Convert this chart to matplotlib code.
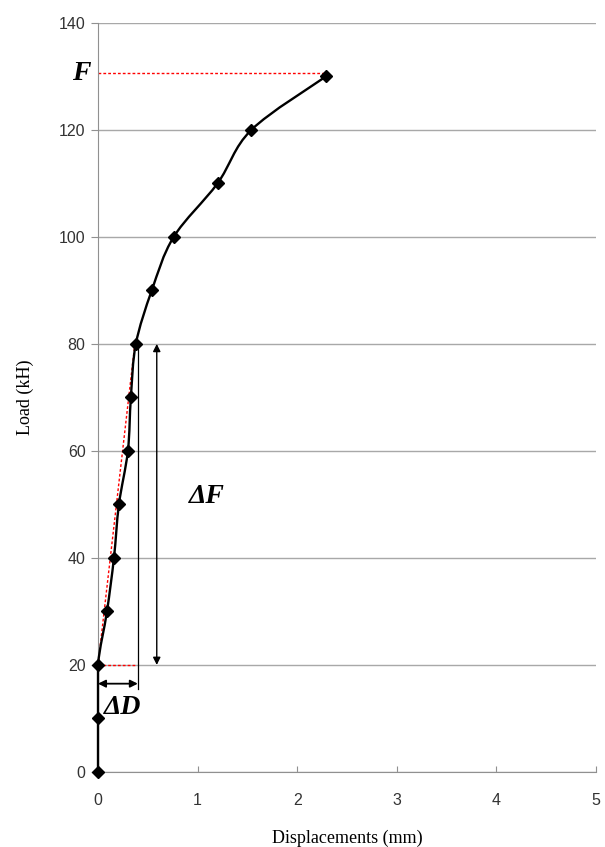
import numpy as np
import matplotlib
matplotlib.use('Agg')
import matplotlib.pyplot as plt
from matplotlib.path import Path
from matplotlib.patches import PathPatch

# load test data
displacement = [0.0, 0.0, 0.0, 0.09, 0.16, 0.21, 0.30, 0.33, 0.38, 0.54, 0.76, 1.20, 1.54, 2.29]
load = [0, 10, 20, 30, 40, 50, 60, 70, 80, 90, 100, 110, 120, 130]

x_ticks = [0, 1, 2, 3, 4, 5]
y_ticks = [0, 20, 40, 60, 80, 100, 120, 140]

F_level = 130.6
F_disp = 2.28
dF_low, dF_high = 20, 80
dD_right = 0.40
dD_at = 16.5
dF_arrow_x = 0.59


def smooth_path(xs, ys, t=1/6):
    # catmull-rom style bezier through the points (like excel smoothed line)
    verts = [(xs[0], ys[0])]
    codes = [Path.MOVETO]
    n = len(xs)
    for i in range(n - 1):
        p1 = (xs[i], ys[i])
        p2 = (xs[i + 1], ys[i + 1])
        if p1[0] == p2[0]:
            # vertical run at zero displacement stays straight
            verts.append(p2)
            codes.append(Path.LINETO)
            continue
        p0 = (xs[max(i - 1, 0)], ys[max(i - 1, 0)])
        p3 = (xs[min(i + 2, n - 1)], ys[min(i + 2, n - 1)])
        c1 = (p1[0] + (p2[0] - p0[0]) * t, p1[1] + (p2[1] - p0[1]) * t)
        c2 = (p2[0] - (p3[0] - p1[0]) * t, p2[1] - (p3[1] - p1[1]) * t)
        verts += [c1, c2, p2]
        codes += [Path.CURVE4] * 3
    return Path(verts, codes)


fig = plt.figure(figsize=(6.05, 8.47), dpi=100)
ax = fig.add_axes([0.162, 0.0886, 0.823, 0.8844])

ax.set_xlim(0, 5)
ax.set_ylim(0, 140)
ax.set_xticks(x_ticks)
ax.set_yticks(y_ticks)
ax.grid(axis='y', color='#a8a8a8', linewidth=1)
ax.set_axisbelow(True)
for s in ['top', 'right']:
    ax.spines[s].set_visible(False)
for s in ['left', 'bottom']:
    ax.spines[s].set_color('#909090')
ax.tick_params(axis='y', direction='out', length=5, color='#909090', labelsize=11.5, pad=4)
ax.tick_params(axis='x', direction='in', length=4, color='#909090', labelsize=11.5, pad=15)
for lab in ax.get_xticklabels() + ax.get_yticklabels():
    lab.set_fontfamily('Liberation Sans')
    lab.set_color('#333333')

# red construction lines
ax.plot([0, F_disp], [F_level, F_level], color='red', linestyle=(0, (2, 1.5)), linewidth=1)
ax.plot([0, displacement[8] - 0.01], [dF_low, dF_high], color='red', linestyle=(0, (2, 1.5)), linewidth=1)
ax.plot([0, dD_right - 0.02], [dF_low, dF_low], color='red', linestyle=(0, (2, 1.5)), linewidth=1)

# curve
ax.add_patch(PathPatch(smooth_path(displacement, load), facecolor='none', edgecolor='black',
                       linewidth=1.7, transform=ax.transData, clip_on=False, zorder=4))
ax.plot(displacement, load, linestyle='none', marker='D', markersize=6.5, color='black', clip_on=False, zorder=5)

# delta markers
ax.plot([dD_right, dD_right], [dD_at - 1, dF_high], color='black', linewidth=0.9)
ax.annotate('', xy=(dF_arrow_x, dF_high), xytext=(dF_arrow_x, dF_low),
            arrowprops=dict(arrowstyle='<|-|>', color='black', lw=1, mutation_scale=11, shrinkA=0, shrinkB=0))
ax.annotate('', xy=(0, dD_at), xytext=(dD_right, dD_at),
            arrowprops=dict(arrowstyle='<|-|>', color='black', lw=1.3, mutation_scale=11, shrinkA=0, shrinkB=0))

ax.text(1.09, 51.5, r'ΔF', fontsize=20, fontstyle='italic', fontweight='bold',
        fontfamily='Liberation Serif', ha='center', va='center')
ax.text(0.25, 12, r'ΔD', fontsize=20, fontstyle='italic', fontweight='bold',
        fontfamily='Liberation Serif', ha='center', va='center')
ax.text(-0.08, F_level, 'F', fontsize=20, fontstyle='italic', fontweight='bold',
        fontfamily='Liberation Serif', ha='right', va='center', clip_on=False)

ax.set_xlabel('Displacements (mm)', fontfamily='Liberation Serif', fontsize=13, labelpad=16)
ax.set_ylabel('Load (kH)', fontfamily='Liberation Serif', fontsize=13, labelpad=18)

fig.savefig('out.png', dpi=100)
